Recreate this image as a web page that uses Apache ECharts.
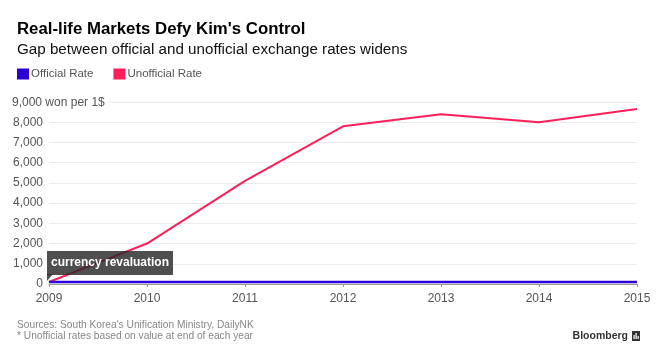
<!DOCTYPE html>
<html><head><meta charset="utf-8">
<script src="https://cdn.jsdelivr.net/npm/echarts@6/dist/echarts.min.js"></script>
<style>html,body{margin:0;padding:0;background:#fff}#c{width:660px;height:362px}</style>
</head><body><div id="c"></div>
<script>
const years = ['2009','2010','2011','2012','2013','2014','2015'];
const officialRate = [100, 100, 100, 100, 100, 100, 100];
const unofficialRate = [100, 2000, 5100, 7800, 8400, 8000, 8650];
const yTicks = [0, 1000, 2000, 3000, 4000, 5000, 6000, 7000, 8000, 9000];
const seriesNames = ['Official Rate', 'Unofficial Rate'];
const annotationText = 'currency revaluation';

const FONT = '"Liberation Sans", Arial, sans-serif';
const chart = echarts.init(document.getElementById('c'), null, {renderer: 'canvas'});
const option = {
  backgroundColor: '#fff',
  animation: false,
  legend: {
    left: 12, top: 63, itemWidth: 12, itemHeight: 11, itemGap: 20,
    icon: 'rect', data: seriesNames,
    textStyle: {fontFamily: FONT, fontSize: 11.5, color: '#555', padding: [0,0,0,-3]}
  },
  grid: {left: 49, right: 23, top: 102, bottom: 78, containLabel: false},
  xAxis: {
    type: 'category', data: years, boundaryGap: false,
    axisLine: {show: true, lineStyle: {color: '#999', width: 1}},
    axisTick: {show: true, length: 3, lineStyle: {color: '#999'}},
    axisLabel: {fontFamily: FONT, fontSize: 12, color: '#555', margin: 9, showMinLabel: true, showMaxLabel: true},
    splitLine: {show: false}
  },
  yAxis: {
    type: 'value', min: 0, max: 9000, interval: 1000,
    axisLine: {show: false}, axisTick: {show: false},
    axisLabel: {fontFamily: FONT, fontSize: 12, color: '#555', margin: 6,
      formatter: v => (v === 9000 ? '' : (yTicks.includes(v) ? v.toLocaleString('en-US') : ''))},
    splitLine: {lineStyle: {color: '#ececec', width: 1}}
  },
  series: [
    {name: seriesNames[0], type: 'line', data: officialRate, symbol: 'none',
     color: '#2a00d6', lineStyle: {width: 2.5, color: '#2a00d6'}, z: 3},
    {name: seriesNames[1], type: 'line', data: unofficialRate, symbol: 'none',
     color: '#ff1f5b', lineStyle: {width: 2, color: '#ff1f5b'}, z: 2}
  ]
};
chart.setOption(option);

const p0 = chart.convertToPixel({gridIndex: 0}, [0, unofficialRate[0]]);
const pTop = chart.convertToPixel({gridIndex: 0}, [0, 9000]);
chart.setOption({
  graphic: [
    {type: 'text', x: 17, y: 29, z: 10,
     style: {text: "Real-life Markets Defy Kim's Control", font: 'bold 16.8px ' + FONT, fill: '#000', verticalAlign: 'middle'}},
    {type: 'text', x: 17, y: 50, z: 10,
     style: {text: 'Gap between official and unofficial exchange rates widens', font: '15.2px ' + FONT, fill: '#111', verticalAlign: 'middle'}},
    {type: 'text', x: 12, y: pTop[1] + 1, z: 10,
     style: {text: '9,000 won per 1$', font: '12px ' + FONT, fill: '#555', verticalAlign: 'middle',
             backgroundColor: '#fff', padding: [0, 4, 0, 0]}},
    {type: 'rect', shape: {x: p0[0] - 2, y: p0[1] - 31, width: 126, height: 24}, z: 10,
     style: {fill: 'rgba(40,40,40,0.82)'}},
    {type: 'polygon', shape: {points: [[p0[0]-2, p0[1]-8], [p0[0]+4, p0[1]-8], [p0[0]-2, p0[1]-1]]}, z: 10,
     style: {fill: 'rgba(40,40,40,0.82)'}},
    {type: 'text', x: p0[0] + 61, y: p0[1] - 19, z: 11,
     style: {text: annotationText, font: 'bold 12px ' + FONT, fill: '#fff', align: 'center', verticalAlign: 'middle'}},
    {type: 'text', x: 17, y: 325, z: 10,
     style: {text: "Sources: South Korea's Unification Ministry, DailyNK", font: '10.2px ' + FONT, fill: '#888', verticalAlign: 'middle'}},
    {type: 'text', x: 17, y: 336, z: 10,
     style: {text: '* Unofficial rates based on value at end of each year', font: '10.2px ' + FONT, fill: '#888', verticalAlign: 'middle'}},
    {type: 'text', x: 628, y: 336, z: 10,
     style: {text: 'Bloomberg', font: 'bold 10.5px ' + FONT, fill: '#333', align: 'right', verticalAlign: 'middle'}},
    {type: 'rect', shape: {x: 632, y: 331, width: 8, height: 10}, z: 10, style: {fill: '#333'}},
    {type: 'rect', shape: {x: 633.5, y: 335, width: 1.2, height: 4}, z: 11, style: {fill: '#fff'}},
    {type: 'rect', shape: {x: 635.5, y: 333, width: 1.2, height: 6}, z: 11, style: {fill: '#fff'}},
    {type: 'rect', shape: {x: 637.5, y: 336, width: 1.2, height: 3}, z: 11, style: {fill: '#fff'}}
  ]
});
</script></body></html>
